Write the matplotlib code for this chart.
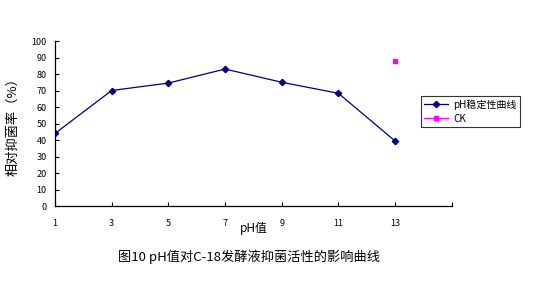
import matplotlib.pyplot as plt

plt.rcParams['font.family'] = ['Noto Sans CJK SC', 'DejaVu Sans']
plt.rcParams['axes.unicode_minus'] = False

# 数据
ph = [1, 3, 5, 7, 9, 11, 13]
rate = [44, 70, 74.5, 83, 75, 68.3, 39.4]
ck_x = [13]
ck_y = [87.7]
xticks = [1, 3, 5, 7, 9, 11, 13, 15]
xlabels = ['1', '3', '5', '7', '9', '11', '13', '']

fig = plt.figure(figsize=(5.54, 2.82), dpi=100)
ax = fig.add_axes([0.0993, 0.2695, 0.7161, 0.5851])

ax.plot(ph, rate, color='#000080', lw=0.9, marker='D', ms=3.2, label='pH稳定性曲线')
ax.plot(ck_x, ck_y, color='#FF00FF', lw=0.9, marker='s', ms=3.5, ls='none', label='CK')

ax.set_xlim(1, 15)
ax.set_ylim(0, 100)
ax.set_xticks(xticks)
ax.set_xticklabels(xlabels)
ax.set_yticks(range(0, 101, 10))
ax.tick_params(direction='in', length=3, width=0.8, labelsize=6.5, pad=6)
ax.tick_params(axis='x', pad=9)
for s in ['top', 'right']:
    ax.spines[s].set_visible(False)
for s in ['left', 'bottom']:
    ax.spines[s].set_linewidth(0.9)

ax.set_xlabel('pH值', fontsize=8.5, labelpad=-4)
ax.set_ylabel('相对抑菌率（%）', fontsize=9.5, labelpad=9)

# 图例
h1 = plt.Line2D([], [], color='#000080', lw=0.9, marker='D', ms=3.2)
h2 = plt.Line2D([], [], color='#FF00FF', lw=0.9, marker='s', ms=3.5)
leg = fig.legend([h1, h2], ['pH稳定性曲线', 'CK'], loc='upper left',
                 bbox_to_anchor=(0.750, 0.677), fontsize=7.2, frameon=True,
                 fancybox=False, edgecolor='black', handlelength=2.4,
                 borderpad=0.3, labelspacing=0.4, handletextpad=0.6)
leg.get_frame().set_linewidth(0.8)

fig.text(0.45, 0.09, '图10 pH值对C-18发酵液抑菌活性的影响曲线', ha='center', va='center', fontsize=9.5)

plt.savefig('out.png', dpi=100)
